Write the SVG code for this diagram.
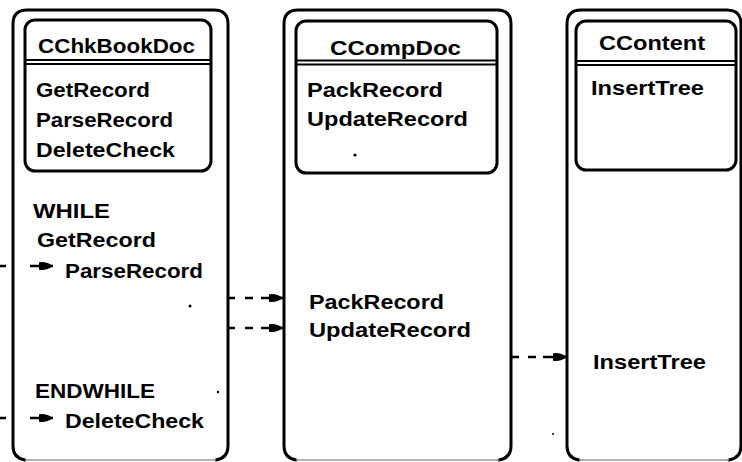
<svg xmlns="http://www.w3.org/2000/svg" width="742" height="462" viewBox="0 0 742 462">
  <style>
    .frame { fill: none; stroke: #000; stroke-width: 3; stroke-linecap: round; stroke-linejoin: round; }
    .base { fill: none; stroke: #9a9a9a; stroke-width: 1.5; }
    .card { fill: none; stroke: #000; stroke-width: 3; }
    .rule { stroke: #000; stroke-width: 2; }
    .t { font-family: "Liberation Sans", Arial, sans-serif; font-weight: bold; font-size: 19.5px; fill: #000; }
    .link { fill: none; stroke: #000; stroke-width: 2.6; marker-end: url(#head); }
    .speck { fill: #000; }
  </style>
  <defs>
    <marker id="head" markerUnits="userSpaceOnUse" viewBox="-15 -7 16 14" refX="0" refY="0" markerWidth="16" markerHeight="14" orient="auto">
      <path d="M-14,-3.8 Q-7,-5.2 0,0 Q-7,5.2 -14,3.8 Z" fill="#000"/>
    </marker>
  </defs>
  <rect width="742" height="462" fill="#fff"/>

  <!-- CChkBookDoc column -->
  <g id="cchkbookdoc">
    <path class="frame" d="M25,460 Q13,458 13,446 V24 Q13,10 27,10 H214 Q228,10 228,24 V446 Q228,458 216,460"/>
    <path class="base" d="M25,460 H216"/>
    <rect class="card" x="25" y="20" width="186" height="151" rx="10"/>
    <line class="rule" x1="25" y1="60" x2="211" y2="60"/>
    <line class="rule" x1="25" y1="64" x2="211" y2="64"/>
    <text class="t" x="38" y="53" textLength="157" lengthAdjust="spacingAndGlyphs">CChkBookDoc</text>
    <text class="t" x="36" y="97" textLength="114" lengthAdjust="spacingAndGlyphs">GetRecord</text>
    <text class="t" x="36" y="127" textLength="137" lengthAdjust="spacingAndGlyphs">ParseRecord</text>
    <text class="t" x="36" y="157" textLength="139" lengthAdjust="spacingAndGlyphs">DeleteCheck</text>
    <text class="t" x="33" y="218" textLength="77" lengthAdjust="spacingAndGlyphs">WHILE</text>
    <text class="t" x="37" y="247" textLength="119" lengthAdjust="spacingAndGlyphs">GetRecord</text>
    <text class="t" x="65" y="278" textLength="138" lengthAdjust="spacingAndGlyphs">ParseRecord</text>
    <text class="t" x="35" y="398" textLength="120" lengthAdjust="spacingAndGlyphs">ENDWHILE</text>
    <text class="t" x="65" y="428" textLength="139" lengthAdjust="spacingAndGlyphs">DeleteCheck</text>
    <circle class="speck" cx="190" cy="306" r="1.5"/>
    <circle class="speck" cx="218" cy="392" r="1.2"/>
  </g>

  <!-- CCompDoc column -->
  <g id="ccompdoc">
    <path class="frame" d="M296,460 Q284,458 284,446 V24 Q284,10 298,10 H497 Q511,10 511,24 V446 Q511,458 499,460"/>
    <path class="base" d="M296,460 H499"/>
    <rect class="card" x="296" y="21" width="201" height="152" rx="10"/>
    <line class="rule" x1="296" y1="60.5" x2="497" y2="60.5"/>
    <line class="rule" x1="296" y1="64.5" x2="497" y2="64.5"/>
    <text class="t" x="330" y="55" textLength="131" lengthAdjust="spacingAndGlyphs">CCompDoc</text>
    <text class="t" x="307" y="97" textLength="136" lengthAdjust="spacingAndGlyphs">PackRecord</text>
    <text class="t" x="307" y="126" textLength="161" lengthAdjust="spacingAndGlyphs">UpdateRecord</text>
    <circle class="speck" cx="355" cy="155" r="1.6"/>
    <text class="t" x="309" y="309" textLength="135" lengthAdjust="spacingAndGlyphs">PackRecord</text>
    <text class="t" x="309" y="337" textLength="162" lengthAdjust="spacingAndGlyphs">UpdateRecord</text>
  </g>

  <!-- CContent column -->
  <g id="ccontent">
    <path class="frame" d="M579,460 Q567,458 567,446 V24 Q567,10 581,10 H727 Q741,10 741,24 V446 Q741,458 729,460"/>
    <path class="base" d="M579,460 H729"/>
    <rect class="card" x="576" y="21" width="160" height="149" rx="10"/>
    <line class="rule" x1="576" y1="61" x2="736" y2="61"/>
    <line class="rule" x1="576" y1="65" x2="736" y2="65"/>
    <text class="t" x="599" y="50" textLength="106" lengthAdjust="spacingAndGlyphs">CContent</text>
    <text class="t" x="591" y="95" textLength="113" lengthAdjust="spacingAndGlyphs">InsertTree</text>
    <text class="t" x="593" y="369" textLength="113" lengthAdjust="spacingAndGlyphs">InsertTree</text>
    <circle class="speck" cx="553" cy="434" r="1"/>
  </g>

  <!-- calls between the columns -->
  <g id="connectors">
    <path class="link" d="M0,266 H6 M30,266 H53"/>
    <path class="link" d="M0,418 H6 M30,418 H53"/>
    <path class="link" d="M229,298 h6 M245,298 h8 M261,298 H283"/>
    <path class="link" d="M229,328 h6 M245,328 h8 M261,328 H283"/>
    <path class="link" d="M512,357 h7 M528,357 h8 M543,357 H567"/>
  </g>
</svg>
